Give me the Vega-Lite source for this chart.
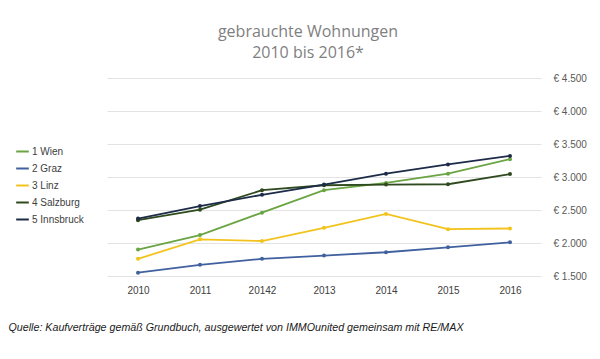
{
  "$schema": "https://vega.github.io/schema/vega-lite/v6.json",
  "width": 434,
  "height": 198,
  "autosize": {"type": "none"},
  "padding": {"left": 107, "top": 78, "right": 59, "bottom": 83},
  "background": "white",
  "title": {
    "text": ["gebrauchte Wohnungen", "2010 bis 2016*"],
    "anchor": "middle",
    "dx": -16,
    "offset": 12,
    "font": "Open Sans",
    "fontSize": 16,
    "fontWeight": "normal",
    "color": "#7f7f7f",
    "lineHeight": 21
  },
  "config": {
    "view": {"stroke": null},
    "font": "Liberation Sans"
  },
  "data": {
    "values": [
      {"jahr": "2010", "stadt": "1 Wien", "preis": 1900},
      {"jahr": "2011", "stadt": "1 Wien", "preis": 2120},
      {"jahr": "20142", "stadt": "1 Wien", "preis": 2460},
      {"jahr": "2013", "stadt": "1 Wien", "preis": 2800},
      {"jahr": "2014", "stadt": "1 Wien", "preis": 2910},
      {"jahr": "2015", "stadt": "1 Wien", "preis": 3050},
      {"jahr": "2016", "stadt": "1 Wien", "preis": 3270},
      {"jahr": "2010", "stadt": "2 Graz", "preis": 1550},
      {"jahr": "2011", "stadt": "2 Graz", "preis": 1670},
      {"jahr": "20142", "stadt": "2 Graz", "preis": 1760},
      {"jahr": "2013", "stadt": "2 Graz", "preis": 1810},
      {"jahr": "2014", "stadt": "2 Graz", "preis": 1860},
      {"jahr": "2015", "stadt": "2 Graz", "preis": 1935},
      {"jahr": "2016", "stadt": "2 Graz", "preis": 2010},
      {"jahr": "2010", "stadt": "3 Linz", "preis": 1760},
      {"jahr": "2011", "stadt": "3 Linz", "preis": 2055},
      {"jahr": "20142", "stadt": "3 Linz", "preis": 2030},
      {"jahr": "2013", "stadt": "3 Linz", "preis": 2230},
      {"jahr": "2014", "stadt": "3 Linz", "preis": 2440},
      {"jahr": "2015", "stadt": "3 Linz", "preis": 2210},
      {"jahr": "2016", "stadt": "3 Linz", "preis": 2220},
      {"jahr": "2010", "stadt": "4 Salzburg", "preis": 2345},
      {"jahr": "2011", "stadt": "4 Salzburg", "preis": 2505},
      {"jahr": "20142", "stadt": "4 Salzburg", "preis": 2800},
      {"jahr": "2013", "stadt": "4 Salzburg", "preis": 2875},
      {"jahr": "2014", "stadt": "4 Salzburg", "preis": 2885},
      {"jahr": "2015", "stadt": "4 Salzburg", "preis": 2890},
      {"jahr": "2016", "stadt": "4 Salzburg", "preis": 3045},
      {"jahr": "2010", "stadt": "5 Innsbruck", "preis": 2370},
      {"jahr": "2011", "stadt": "5 Innsbruck", "preis": 2560},
      {"jahr": "20142", "stadt": "5 Innsbruck", "preis": 2730},
      {"jahr": "2013", "stadt": "5 Innsbruck", "preis": 2885},
      {"jahr": "2014", "stadt": "5 Innsbruck", "preis": 3050},
      {"jahr": "2015", "stadt": "5 Innsbruck", "preis": 3190},
      {"jahr": "2016", "stadt": "5 Innsbruck", "preis": 3320}
    ]
  },
  "mark": {
    "type": "line",
    "strokeWidth": 1.8,
    "point": {"filled": true, "size": 16}
  },
  "encoding": {
    "x": {
      "field": "jahr",
      "type": "ordinal",
      "sort": null,
      "scale": {"type": "point", "padding": 0.5},
      "axis": {
        "title": "Quelle: Kaufverträge gemäß Grundbuch, ausgewertet von IMMOunited gemeinsam mit RE/MAX",
        "titleFont": "Liberation Sans",
        "titleFontStyle": "italic",
        "titleFontWeight": "normal",
        "titleFontSize": 10.7,
        "titleColor": "#1a1a1a",
        "titleAnchor": "start",
        "titleAlign": "left",
        "titleBaseline": "alphabetic",
        "titleX": -99,
        "titleY": 54,
        "labelAngle": 0,
        "labelFontSize": 10,
        "labelColor": "#404040",
        "labelPadding": 9,
        "ticks": false,
        "domain": false,
        "grid": false
      }
    },
    "y": {
      "field": "preis",
      "type": "quantitative",
      "scale": {"domain": [1500, 4500], "nice": false, "zero": false},
      "axis": {
        "orient": "right",
        "title": null,
        "values": [1500, 2000, 2500, 3000, 3500, 4000, 4500],
        "labelExpr": "'€ ' + replace(format(datum.value, ','), ',', '.')",
        "labelFontSize": 10,
        "labelColor": "#595959",
        "labelPadding": 12,
        "ticks": false,
        "domain": false,
        "grid": true,
        "gridColor": "#e3e3e3",
        "gridWidth": 1
      }
    },
    "color": {
      "field": "stadt",
      "type": "nominal",
      "scale": {
        "domain": ["1 Wien", "2 Graz", "3 Linz", "4 Salzburg", "5 Innsbruck"],
        "range": ["#6aa443", "#40609f", "#f2c31c", "#2f4a1f", "#1c2b48"]
      },
      "legend": {
        "title": null,
        "orient": "none",
        "legendX": -92,
        "legendY": 66,
        "symbolType": "stroke",
        "symbolSize": 160,
        "symbolStrokeWidth": 2,
        "labelFontSize": 10,
        "labelColor": "#404040",
        "labelOffset": 2,
        "rowPadding": 4
      }
    }
  }
}
